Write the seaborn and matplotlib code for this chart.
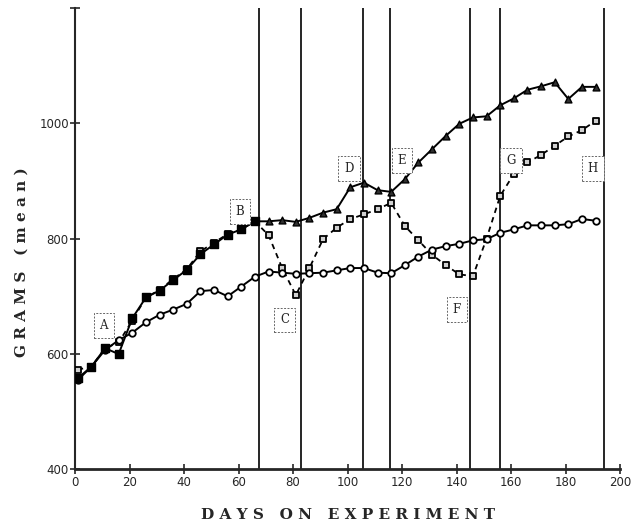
import numpy as np
import pandas as pd
import matplotlib
matplotlib.use("Agg")
import matplotlib.pyplot as plt
import seaborn as sns

# weigh days (every 5 days)
days = list(range(1, 192, 5))

# solid line: squares up to day 66, triangles afterwards
grp_solid = [558, 578, 610, 600, 662, 698, 710, 728, 746, 773, 790, 807, 816, 830,
             830, 832, 829, 836, 845, 851, 889, 897, 884, 881, 903, 932, 955, 978,
             999, 1010, 1012, 1031, 1043, 1058, 1064, 1071, 1042, 1063, 1063]
# dashed line with open squares
grp_dashed = [573, 578, 610, 620, 658, 698, 711, 730, 747, 778, 793, 808, 816, 830,
              806, 749, 702, 749, 799, 819, 834, 842, 851, 862, 822, 797, 772, 754,
              738, 735, 800, 874, 912, 932, 945, 961, 977, 988, 1004]
# solid line with open circles
grp_circle = [555, 578, 607, 624, 637, 655, 668, 677, 687, 709, 711, 700, 717, 734,
              743, 741, 739, 740, 741, 745, 749, 749, 741, 740, 754, 769, 781, 787,
              791, 797, 799, 810, 816, 823, 823, 823, 825, 834, 831]

phase_lines = [67.5, 83, 105.5, 115.5, 145, 156, 194]
box_labels = ["A", "B", "C", "D", "E", "F", "G", "H"]
box_x = [10.5, 60.5, 77, 100.5, 120, 140, 160, 190]
box_y = [650, 847, 659, 922, 935, 677, 935, 922]

df = pd.DataFrame({"day": days, "solid": grp_solid,
                   "dashed": grp_dashed, "circle": grp_circle})

sns.set_style("ticks")
plt.rcParams["font.family"] = ["DejaVu Sans"]

fig = plt.figure(figsize=(6.36, 5.21), dpi=100)
ax = fig.add_axes([0.118, 0.099, 0.857, 0.886])

for xv in phase_lines:
    ax.axvline(xv, color="black", lw=1.2, zorder=1)

# dashed group
sns.lineplot(data=df, x="day", y="dashed", color="black", lw=1.3,
             linestyle=(0, (3, 2.5)), ax=ax, zorder=2)
sns.scatterplot(data=df, x="day", y="dashed", marker="s", s=24,
                facecolor="#d0d0d0", edgecolor="black", linewidth=1.3,
                ax=ax, zorder=3)

# circle group
sns.lineplot(data=df, x="day", y="circle", color="black", lw=1.4, ax=ax, zorder=4)
sns.scatterplot(data=df, x="day", y="circle", marker="o", s=22,
                facecolor="white", edgecolor="black", linewidth=1.3,
                ax=ax, zorder=5)

# solid group
sns.lineplot(data=df, x="day", y="solid", color="black", lw=1.4, ax=ax, zorder=6)
early = df[df["day"] <= 66]
late = df[df["day"] > 66]
sns.scatterplot(data=early, x="day", y="solid", marker="s", s=26,
                color="black", edgecolor="black", linewidth=1,
                ax=ax, zorder=7)
sns.scatterplot(data=late, x="day", y="solid", marker="^", s=24,
                color="#303030", edgecolor="black", linewidth=1,
                ax=ax, zorder=7)

for lab, bx, by in zip(box_labels, box_x, box_y):
    ax.text(bx, by, lab, ha="center", va="center", fontsize=8.5,
            family="DejaVu Serif", zorder=8,
            bbox=dict(boxstyle="square,pad=0.5", facecolor="white",
                      edgecolor="#666666", linestyle=(0, (2, 1.5)), lw=0.7))

ax.set_xlim(0, 200)
ax.set_ylim(400, 1200)
ax.set_xticks(range(0, 201, 20))
ax.set_yticks([400, 600, 800, 1000, 1200])
ax.set_yticklabels(["400", "600", "800", "1000", ""])
ax.tick_params(direction="inout", length=7, width=1.2, labelsize=8.5, pad=1)

sns.despine(ax=ax)
ax.spines["left"].set_linewidth(1.5)
ax.spines["bottom"].set_linewidth(2)

ax.set_xlabel("D A Y S   O N   E X P E R I M E N T", family="DejaVu Serif",
              fontweight="bold", fontsize=11, labelpad=14)
ax.set_ylabel("G R A M S   ( m e a n )", family="DejaVu Serif",
              fontweight="bold", fontsize=11)
ax.yaxis.set_label_coords(-0.085, 0.45)

fig.savefig("out.png", dpi=100)
